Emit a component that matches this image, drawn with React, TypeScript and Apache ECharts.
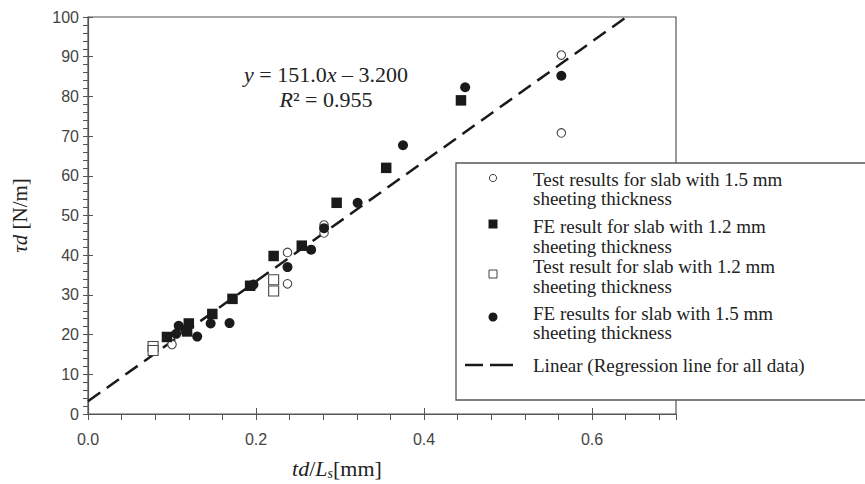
import React, { useEffect, useRef } from 'react';
import * as echarts from 'echarts';

// Data: [td/Ls (mm), τd (N/m)]
const testResults15: number[][] = [
  [0.1, 17.5], [0.2375, 40.7], [0.2375, 32.8], [0.281, 47.6], [0.281, 45.6], [0.5635, 90.4], [0.5635, 70.8],
];
const feResults12: number[][] = [
  [0.094, 19.4], [0.118, 20.8], [0.12, 22.8], [0.148, 25.2], [0.172, 29.0], [0.193, 32.3],
  [0.221, 39.8], [0.2545, 42.4], [0.296, 53.2], [0.355, 62.0], [0.444, 79.0],
];
const testResults12: number[][] = [
  [0.0775, 17.0], [0.0775, 16.0], [0.221, 33.8], [0.221, 31.0],
];
const feResults15: number[][] = [
  [0.105, 20.2], [0.108, 22.2], [0.116, 21.2], [0.13, 19.5], [0.146, 22.8], [0.1685, 22.9], [0.197, 32.6],
  [0.2375, 37.0], [0.2656, 41.4], [0.281, 46.8], [0.321, 53.2], [0.375, 67.7], [0.449, 82.3], [0.5635, 85.2],
];
const regressionLine: number[][] = [[0, 3.2], [0.641, 100]];

const legendLabels: string[][] = [
  ['Test results for slab with 1.5 mm', 'sheeting thickness'],
  ['FE result for slab with 1.2 mm', 'sheeting thickness'],
  ['Test result for slab with 1.2 mm', 'sheeting thickness'],
  ['FE results for slab with 1.5 mm', 'sheeting thickness'],
  ['Linear (Regression line for all data)'],
];
const equationLine1 = '{i|y} = 151.0{i|x} – 3.200';
const equationLine2 = '{i|R}² = 0.955';
const xAxisTitle = '{i|td}/{i|L}{s|s}[mm]';
const yAxisTitle = '{i|τd} [N/m]';

const SERIF = '"Liberation Serif", "Times New Roman", serif';
const SANS = '"Liberation Sans", Arial, sans-serif';
const AX = '#555';
const INK = '#1a1a1a';

export default function App() {
  const ref = useRef<HTMLDivElement>(null);
  useEffect(() => {
    if (!ref.current) return;
    const chart = echarts.init(ref.current, null, { renderer: 'svg' });

    const legendX = 493;
    const textX = 533;
    const itemYs = [179, 226.7, 266.7, 313.3, 365];
    const symYs = [178, 224, 274, 317, 365];
    const lh = 19.5;
    const legendChildren: any[] = [
      { type: 'rect', shape: { x: 456, y: 163, width: 430, height: 237 }, style: { fill: '#fff', stroke: AX, lineWidth: 1.3 } },
      { type: 'circle', shape: { cx: legendX, cy: symYs[0], r: 3.6 }, style: { fill: '#fff', stroke: '#444', lineWidth: 1 } },
      { type: 'rect', shape: { x: legendX - 4.5, y: symYs[1] - 4.5, width: 9, height: 9 }, style: { fill: INK } },
      { type: 'rect', shape: { x: legendX - 4, y: symYs[2] - 4, width: 8, height: 8 }, style: { fill: '#fff', stroke: '#444', lineWidth: 1 } },
      { type: 'circle', shape: { cx: legendX, cy: symYs[3], r: 4.5 }, style: { fill: INK } },
      { type: 'line', shape: { x1: 465, y1: symYs[4], x2: 483, y2: symYs[4] }, style: { stroke: INK, lineWidth: 2.5 } },
      { type: 'line', shape: { x1: 490, y1: symYs[4], x2: 513, y2: symYs[4] }, style: { stroke: INK, lineWidth: 2.5 } },
    ];
    legendLabels.forEach((lines, i) => {
      lines.forEach((l, j) => {
        legendChildren.push({
          type: 'text', x: textX, y: itemYs[i] + j * lh,
          style: { text: l, fontFamily: SERIF, fontSize: 19, fill: '#222', align: 'left', verticalAlign: 'middle' },
        });
      });
    });

    const option: any = {
      animation: false,
      backgroundColor: '#fff',
      grid: { left: 88, right: 189, top: 17, bottom: 70, show: true, borderColor: AX, borderWidth: 1.2, backgroundColor: 'transparent' },
      xAxis: [
        {
          type: 'value', min: 0, max: 0.7, interval: 0.04,
          axisLine: { show: true, lineStyle: { color: AX, width: 1.2 } },
          axisTick: { show: true, length: 6, lineStyle: { color: AX } },
          axisLabel: { show: false }, splitLine: { show: false },
        },
        {
          type: 'value', position: 'bottom', min: 0, max: 0.7, interval: 0.2,
          axisLine: { show: false },
          axisTick: { show: true, inside: true, length: 6, lineStyle: { color: AX } },
          axisLabel: { formatter: (v: number) => v.toFixed(1), showMaxLabel: false, margin: 17, fontFamily: SANS, fontSize: 16, color: '#444' },
          splitLine: { show: false },
        },
      ],
      yAxis: [
        {
          type: 'value', min: 0, max: 100, interval: 2,
          axisLine: { show: true, lineStyle: { color: AX, width: 1.2 } },
          axisTick: { show: true, length: 5, lineStyle: { color: AX } },
          axisLabel: { show: false }, splitLine: { show: false },
        },
        {
          type: 'value', position: 'left', min: 0, max: 100, interval: 10,
          axisLine: { show: false },
          axisTick: { show: true, inside: true, length: 5, lineStyle: { color: AX } },
          axisLabel: { margin: 9, fontFamily: SANS, fontSize: 16, color: '#444' },
          splitLine: { show: false },
          name: yAxisTitle, nameLocation: 'middle', nameGap: 58, nameRotate: 90,
          nameTextStyle: {
            fontFamily: SERIF, fontSize: 21, color: '#222',
            rich: { i: { fontFamily: SERIF, fontSize: 21, fontStyle: 'italic', color: '#222' } },
          },
        },
      ],
      series: [
        {
          type: 'line', data: regressionLine, xAxisIndex: 0, yAxisIndex: 0, symbol: 'none', z: 2,
          lineStyle: { color: INK, width: 2.5, type: [15, 8] },
        },
        {
          name: legendLabels[0].join(' '), type: 'scatter', data: testResults15, xAxisIndex: 0, yAxisIndex: 0,
          symbol: 'circle', symbolSize: 8.5, z: 3, itemStyle: { color: '#fff', borderColor: '#444', borderWidth: 1.1, opacity: 1 },
        },
        {
          name: legendLabels[2].join(' '), type: 'scatter', data: testResults12, xAxisIndex: 0, yAxisIndex: 0,
          symbol: 'rect', symbolSize: 10, z: 3, itemStyle: { color: '#fff', borderColor: '#444', borderWidth: 1.1, opacity: 1 },
        },
        {
          name: legendLabels[1].join(' '), type: 'scatter', data: feResults12, xAxisIndex: 0, yAxisIndex: 0,
          symbol: 'rect', symbolSize: 10.5, z: 4, itemStyle: { color: INK, opacity: 1 },
        },
        {
          name: legendLabels[3].join(' '), type: 'scatter', data: feResults15, xAxisIndex: 0, yAxisIndex: 0,
          symbol: 'circle', symbolSize: 10, z: 4, itemStyle: { color: INK, opacity: 1 },
        },
      ],
      graphic: [
        {
          type: 'group', z: 100, children: [
            {
              type: 'text', x: 326, y: 74,
              style: {
                text: equationLine1, fontFamily: SERIF, fontSize: 22, fill: '#222', align: 'center', verticalAlign: 'middle',
                rich: { i: { fontFamily: SERIF, fontSize: 22, fontStyle: 'italic', fill: '#222' } },
              },
            },
            {
              type: 'text', x: 326, y: 99,
              style: {
                text: equationLine2, fontFamily: SERIF, fontSize: 22, fill: '#222', align: 'center', verticalAlign: 'middle',
                rich: { i: { fontFamily: SERIF, fontSize: 22, fontStyle: 'italic', fill: '#222' } },
              },
            },
            {
              type: 'text', x: 337, y: 468,
              style: {
                text: xAxisTitle, fontFamily: SERIF, fontSize: 22, fill: '#222', align: 'center', verticalAlign: 'middle',
                rich: {
                  i: { fontFamily: SERIF, fontSize: 22, fontStyle: 'italic', fill: '#222' },
                  s: { fontFamily: SERIF, fontSize: 14, fontStyle: 'italic', fill: '#222', verticalAlign: 'bottom', padding: [10, 0, 0, 0] },
                },
              },
            },
            ...legendChildren,
          ],
        },
      ],
    };
    chart.setOption(option);
    return () => chart.dispose();
  }, []);
  return <div ref={ref} style={{ position: 'fixed', left: 0, top: 0, width: 865, height: 484, background: '#fff' }} />;
}
